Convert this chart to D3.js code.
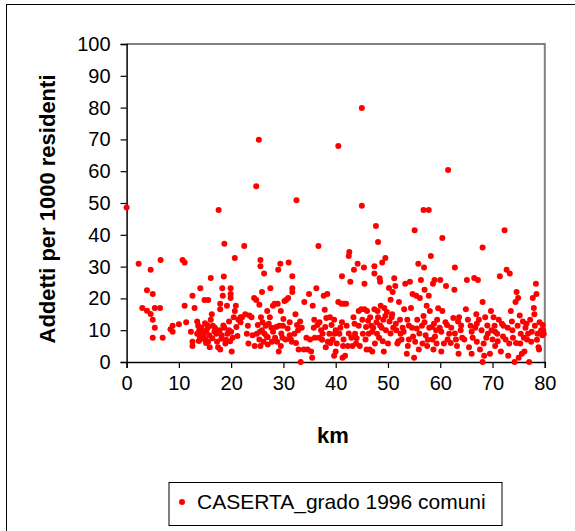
<!DOCTYPE html>
<html><head><meta charset="utf-8">
<script src="https://cdn.jsdelivr.net/npm/d3@7"></script>
<style>body{margin:0;background:#fff}svg{display:block}</style>
</head><body>
<script>
const seriesName = "CASERTA_grado 1996 comuni";
const xTicks = [0,10,20,30,40,50,60,70,80];
const yTicks = [0,10,20,30,40,50,60,70,80,90,100];
const km = [0,2.3,3.0,3.9,3.9,4.6,4.6,5.0,5.0,5.0,5.4,5.4,6.4,6.5,6.9,8.4,8.8,8.8,10.0,
10.7,11.1,11.1,11.4,12.3,12.6,12.6,12.6,13.0,13.5,13.5,13.7,13.9,14.1,14.1,14.3,14.5,14.7,14.9,15.1,15.3,15.4,15.6,15.6,15.8,15.9,16.1,16.1,16.3,16.5,16.9,17.2,17.3,17.5,17.6,17.8,17.9,17.9,17.9,18.1,18.2,18.3,18.4,18.6,18.7,18.7,18.9,19.2,19.3,19.6,19.9,19.9,19.9,19.6,
20.1,20.3,20.5,20.7,20.7,20.9,21.2,21.4,21.8,22.1,22.5,22.7,23.0,23.2,23.3,23.5,23.9,24.1,24.4,24.5,24.8,24.8,24.9,25.1,25.3,25.4,25.4,25.6,25.6,25.6,25.7,25.9,25.9,26.2,26.3,26.4,26.6,26.9,27.0,27.4,27.5,27.7,27.8,28.0,28.3,28.4,28.8,28.9,29.0,29.1,29.2,29.4,29.5,29.5,29.8,29.9,
30.2,30.4,30.5,30.9,31.0,31.2,31.4,31.6,31.7,31.7,31.7,32.1,32.3,32.5,32.6,32.8,32.9,33.2,33.3,33.5,33.9,34.0,34.4,34.6,34.9,35.1,35.3,35.5,35.6,35.8,35.9,36.0,36.3,36.5,36.7,36.8,37.2,37.5,37.7,37.9,38.1,38.2,38.4,38.5,38.8,38.9,39.2,39.4,39.7,39.7,39.8,
40.0,40.2,40.5,40.5,40.7,40.9,41.1,41.2,41.3,41.4,41.5,41.6,41.8,42.0,42.1,42.3,42.5,42.6,42.8,43.0,43.2,43.4,43.5,43.7,43.9,44.2,44.4,44.4,44.6,44.9,45.0,45.0,45.1,45.2,45.4,45.5,45.5,45.7,45.9,46.0,46.3,46.5,46.6,46.8,47.0,47.2,47.4,47.4,47.4,47.5,47.7,47.9,48.1,48.1,48.3,48.4,48.5,48.6,48.8,48.9,49.1,49.2,49.3,49.5,49.6,49.8,
50.0,50.2,50.3,50.5,50.7,50.9,51.0,51.2,51.4,51.6,51.8,52.1,52.3,52.4,52.6,52.8,53.1,53.3,53.6,53.7,53.8,54.0,54.2,54.4,54.6,54.7,55.0,55.1,55.2,55.4,55.6,55.8,55.9,56.1,56.3,56.5,56.6,56.8,56.9,57.0,57.2,57.4,57.5,57.8,57.8,57.9,58.0,58.2,58.5,58.6,58.7,58.9,59.2,59.3,59.4,59.6,59.9,
60.0,60.2,60.4,60.4,60.7,61.1,61.3,61.4,61.5,61.7,62.1,62.5,62.7,62.8,63.0,63.2,63.4,63.5,63.6,63.9,64.2,64.6,64.9,65.1,65.3,65.5,65.8,66.0,66.2,66.5,66.7,66.9,67.0,67.2,67.4,67.6,67.9,68.1,68.1,68.1,68.3,68.4,68.6,68.8,69.1,69.5,69.7,69.8,
70.0,70.2,70.4,70.5,70.9,71.2,71.4,71.6,71.8,72.1,72.3,72.5,72.7,72.9,73.0,73.2,73.3,73.5,73.7,73.9,74.2,74.4,74.6,74.8,74.9,75.0,75.2,75.3,75.4,75.6,75.8,76.0,76.1,76.3,76.6,76.8,77.0,77.2,77.4,77.7,77.9,78.0,78.1,78.3,78.4,78.6,78.8,78.9,79.3,79.5,79.6,79.7,79.8,
14.0,14.8,15.2,15.6,16.4,13.8,15.0,16.8,18.5,19.0,20.0,21.0,21.8,19.8,
26.0,26.8,27.2,28.0,28.6,29.6,30.0,30.8,31.2,27.0,25.5,32.4,
36.9,37.4,38.0,39.0,40.0,41.2,42.5,43.6,44.0,
45.8,46.2,47.0,47.8,48.5,49.0,49.5,50.5,51.5,52.0,53.0,54.0,54.8,55.5,50.8,48.0,
56.0,57.0,57.6,58.4,59.0,60.2,61.0,62.0,62.8,64.0,56.8,58.8,
66.0,67.0,69.0,70.5,71.0,72.0,73.8,74.5,76.5,77.5,79.0,78.5];
const addetti = [48.6,30.9,17.0,22.6,16.1,29.0,15.1,21.4,13.3,7.6,10.8,17.0,17.0,32.1,7.6,10.3,11.4,9.5,11.9,
32.1,31.3,17.7,12.5,9.5,20.8,6.4,5.0,17.0,12.7,8.9,11.4,10.0,23.2,7.1,10.8,8.4,7.8,19.5,7.1,10.0,11.6,19.5,6.4,8.4,4.6,26.4,13.3,15.0,11.4,10.8,8.9,6.4,4.6,47.8,10.0,16.6,18.3,3.9,7.3,8.4,23.2,20.8,26.9,37.2,10.8,5.8,17.7,8.9,10.0,23.2,21.4,20.1,12.7,
3.3,7.6,14.1,32.7,16.0,17.7,8.2,13.3,14.1,14.1,36.5,15.0,8.9,11.4,5.8,14.6,14.1,8.4,20.1,5.0,55.3,19.5,8.9,11.6,69.9,18.0,7.1,32.1,30.1,5.0,14.1,22.0,10.0,6.4,27.8,8.9,11.4,16.0,7.8,14.1,23.2,10.8,6.4,17.7,18.3,7.6,6.4,18.3,29.0,3.3,11.4,30.9,5.0,16.0,7.6,11.4,
19.2,7.1,19.5,20.1,31.3,8.4,7.1,6.4,27.0,23.2,22.0,8.9,15.0,50.9,11.6,10.0,3.9,12.7,0,10.8,3.9,18.9,7.6,3.9,21.4,7.1,3.3,1.3,17.7,10.8,13.3,7.6,23.2,11.6,36.5,7.6,10.0,8.9,20.8,16.4,4.6,13.8,21.4,6.4,8.9,14.1,11.6,7.1,13.3,2.0,8.9,
3.3,5.8,67.9,18.9,8.9,10.8,18.3,27.0,1.3,5.0,7.1,18.3,2.0,18.3,11.4,5.0,33.3,34.6,25.2,7.6,5.0,14.1,29.0,8.9,5.8,30.9,11.4,16.0,5.0,16.6,79.9,49.1,13.3,8.9,29.7,24.6,16.6,7.1,3.9,16.0,8.9,3.9,14.1,11.4,3.3,10.8,30.1,27.8,16.6,5.8,42.8,8.9,14.1,37.7,7.6,26.3,25.2,17.7,10.8,31.3,13.3,3.3,17.0,32.7,10.0,15.7,
5.8,23.3,12.7,19.6,14.1,22.0,10.8,26.3,23.9,10.0,5.8,18.9,13.3,8.9,7.1,10.8,16.6,24.6,2.6,13.3,5.0,7.1,25.2,17.0,10.8,21.4,1.3,41.4,6.4,20.8,13.3,30.9,3.9,20.1,25.8,11.4,5.8,47.8,29.7,22.7,8.4,17.7,5.0,47.8,20.8,10.8,16.0,33.3,7.1,24.6,3.9,25.8,10.0,5.8,13.3,16.9,10.8,
25.8,3.3,39.0,16.0,5.8,23.9,11.6,7.1,60.4,8.9,10.8,13.8,22.7,29.7,7.1,5.0,12.7,2.6,14.1,10.0,7.6,7.1,16.6,25.8,13.3,4.6,11.4,2.6,7.6,26.4,10.8,15.0,6.4,25.8,13.3,3.9,10.0,0,36.0,18.9,5.8,2.0,14.1,7.6,8.9,2.6,16.0,10.0,
7.1,14.1,11.4,5.0,8.9,13.3,27.0,3.3,12.0,11.4,41.4,7.1,29.0,10.8,2.0,5.8,27.8,16.0,12.7,7.6,0,18.9,22.0,11.4,20.1,1.3,14.6,5.8,8.9,2.6,12.7,7.6,3.3,10.8,7.1,8.9,0,13.3,6.4,20.1,17.0,15.0,11.4,24.6,21.4,8.9,4.6,3.9,10.0,8.4,11.6,10.0,8.9,
8.0,9.2,6.0,11.0,7.5,6.6,12.2,9.5,11.5,7.0,9.5,11.0,12.5,6.5,
12.5,8.0,12.0,9.5,11.0,9.0,13.5,10.5,12.5,5.5,9.5,6.0,
12.5,7.0,11.0,6.0,10.0,12.5,9.0,12.0,7.5,
11.0,13.0,9.5,12.5,11.5,6.5,14.5,9.0,12.0,6.5,9.5,11.5,8.0,10.5,15.0,16.0,
9.0,12.5,7.0,11.0,8.0,9.5,12.5,6.0,9.0,11.5,14.5,12.0,
9.5,12.0,11.5,9.5,6.5,8.0,10.0,6.0,12.0,9.5,12.5,7.0];

const W = 575, H = 531;
const svg = d3.select("body").append("svg").attr("width", W).attr("height", H);
const font = "'Liberation Sans', Arial, sans-serif";

svg.append("rect").attr("x",6.5).attr("y",4.5).attr("width",620).attr("height",620)
  .attr("fill","#fff").attr("stroke","#000").attr("stroke-width",1);

const L = 126.6, R = 544.8, T = 44, B = 362;
const x = d3.scaleLinear().domain([0,80]).range([L,R]);
const y = d3.scaleLinear().domain([0,100]).range([B,T]);

svg.append("path").attr("d",`M${L},${T}H${R}V${B}`).attr("fill","none")
  .attr("stroke","#808080").attr("stroke-width",2);

const yAxis = svg.append("g").attr("transform",`translate(${L},0)`)
  .call(d3.axisLeft(y).tickValues(yTicks).tickSize(6).tickPadding(10).tickFormat(d3.format("d")));
const xAxis = svg.append("g").attr("transform",`translate(0,${B})`)
  .call(d3.axisBottom(x).tickValues(xTicks).tickSize(6).tickPadding(8).tickFormat(d3.format("d")));
[xAxis,yAxis].forEach(g=>{
  g.selectAll("path").attr("stroke","#000").attr("stroke-width",1.5);
  g.selectAll("line").attr("stroke","#000").attr("stroke-width",1.2);
  g.selectAll("text").attr("font-family",font).attr("font-size",20).attr("fill","#000");
});

svg.append("g").selectAll("circle").data(km.map((k,i)=>[k,addetti[i]])).join("circle")
  .attr("cx",d=>x(d[0])).attr("cy",d=>y(d[1])).attr("r",3).attr("fill","#ff0000");

svg.append("text").attr("x",333).attr("y",443).attr("text-anchor","middle")
  .attr("font-family",font).attr("font-weight","bold").attr("font-size",22).text("km");
svg.append("text").attr("transform","translate(55,209) rotate(-90)").attr("text-anchor","middle")
  .attr("font-family",font).attr("font-weight","bold").attr("font-size",22).text("Addetti per 1000 residenti");

svg.append("rect").attr("x",169).attr("y",482.5).attr("width",333).attr("height",43)
  .attr("fill","#fff").attr("stroke","#000").attr("stroke-width",1);
svg.append("circle").attr("cx",182).attr("cy",502).attr("r",3).attr("fill","#ff0000");
svg.append("text").attr("x",197).attr("y",509).attr("font-family",font).attr("font-size",21).text(seriesName);
</script>
</body></html>
